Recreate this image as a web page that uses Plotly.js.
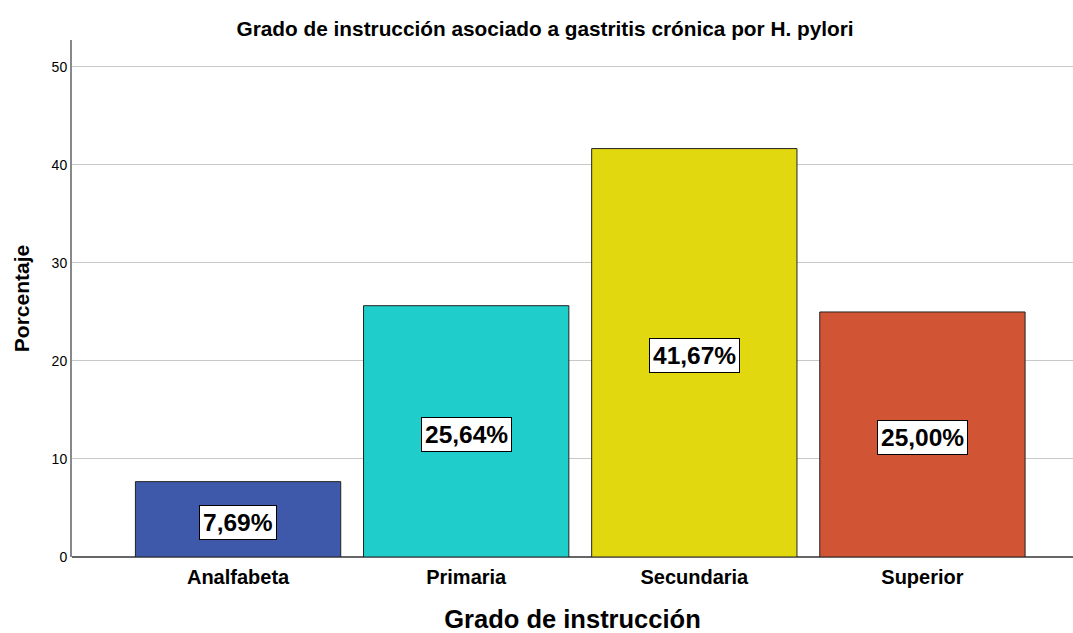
<!DOCTYPE html>
<html>
<head>
<meta charset="utf-8">
<script src="https://cdn.plot.ly/plotly-3.0.1.min.js"></script>
<style>html,body{margin:0;padding:0;background:#fff;}#chart{width:1073px;height:633px;}</style>
</head>
<body>
<div id="chart"></div>
<script>
const categories = ["Analfabeta", "Primaria", "Secundaria", "Superior"];
const values = [7.69, 25.64, 41.67, 25.00];
const labels = ["7,69%", "25,64%", "41,67%", "25,00%"];
const colors = ["#3F59AA", "#1FCECB", "#E2D810", "#D15434"];
const yTicks = [0, 10, 20, 30, 40, 50];

const FONT = "Liberation Sans, Arial, sans-serif";

const trace = {
  type: "bar",
  x: categories,
  y: values,
  width: 0.9,
  marker: { color: colors, line: { color: "#222", width: 1 } },
  hoverinfo: "none"
};

const annotations = categories.map((c, i) => ({
  x: c, y: values[i] / 2, xref: "x", yref: "y",
  text: labels[i], showarrow: false, yshift: -3,
  font: { family: FONT, size: 24.5, color: "#000", weight: "bold" },
  bgcolor: "#fff", bordercolor: "#000", borderwidth: 1, borderpad: 3
}));

const layout = {
  width: 1073, height: 633,
  margin: { l: 72, r: 0, t: 40, b: 76 },
  paper_bgcolor: "#fff", plot_bgcolor: "#fff",
  showlegend: false,
  title: { text: "Grado de instrucción asociado a gastritis crónica por H. pylori",
           font: { family: FONT, size: 20.8, color: "#000", weight: "bold" }, x: 0.508, xanchor: "center", y: 0.955, yanchor: "middle" },
  xaxis: {
    type: "category", range: [-0.728, 3.66],
    showgrid: false, showline: false, zeroline: false, ticks: "",
    ticklabelstandoff: 6,
    tickfont: { family: FONT, size: 20, color: "#000", weight: "bold" },
    title: { text: "Grado de instrucción", font: { family: FONT, size: 25.5, color: "#000", weight: "bold" }, standoff: 24 }
  },
  yaxis: {
    range: [0, 52.75], tickvals: yTicks, ticktext: yTicks.map(String),
    showgrid: true, gridcolor: "#C8C8C8", gridwidth: 1,
    showline: true, linecolor: "#888", linewidth: 2,
    zeroline: true, zerolinecolor: "#666", zerolinewidth: 2,
    ticks: "", ticklen: 0,
    tickfont: { family: FONT, size: 14, color: "#000" },
    title: { text: "Porcentaje", font: { family: FONT, size: 21, color: "#000", weight: "bold" }, standoff: 16 }
  },
  annotations: annotations
};

Plotly.newPlot("chart", [trace], layout, { displayModeBar: false, staticPlot: true });
</script>
</body>
</html>
